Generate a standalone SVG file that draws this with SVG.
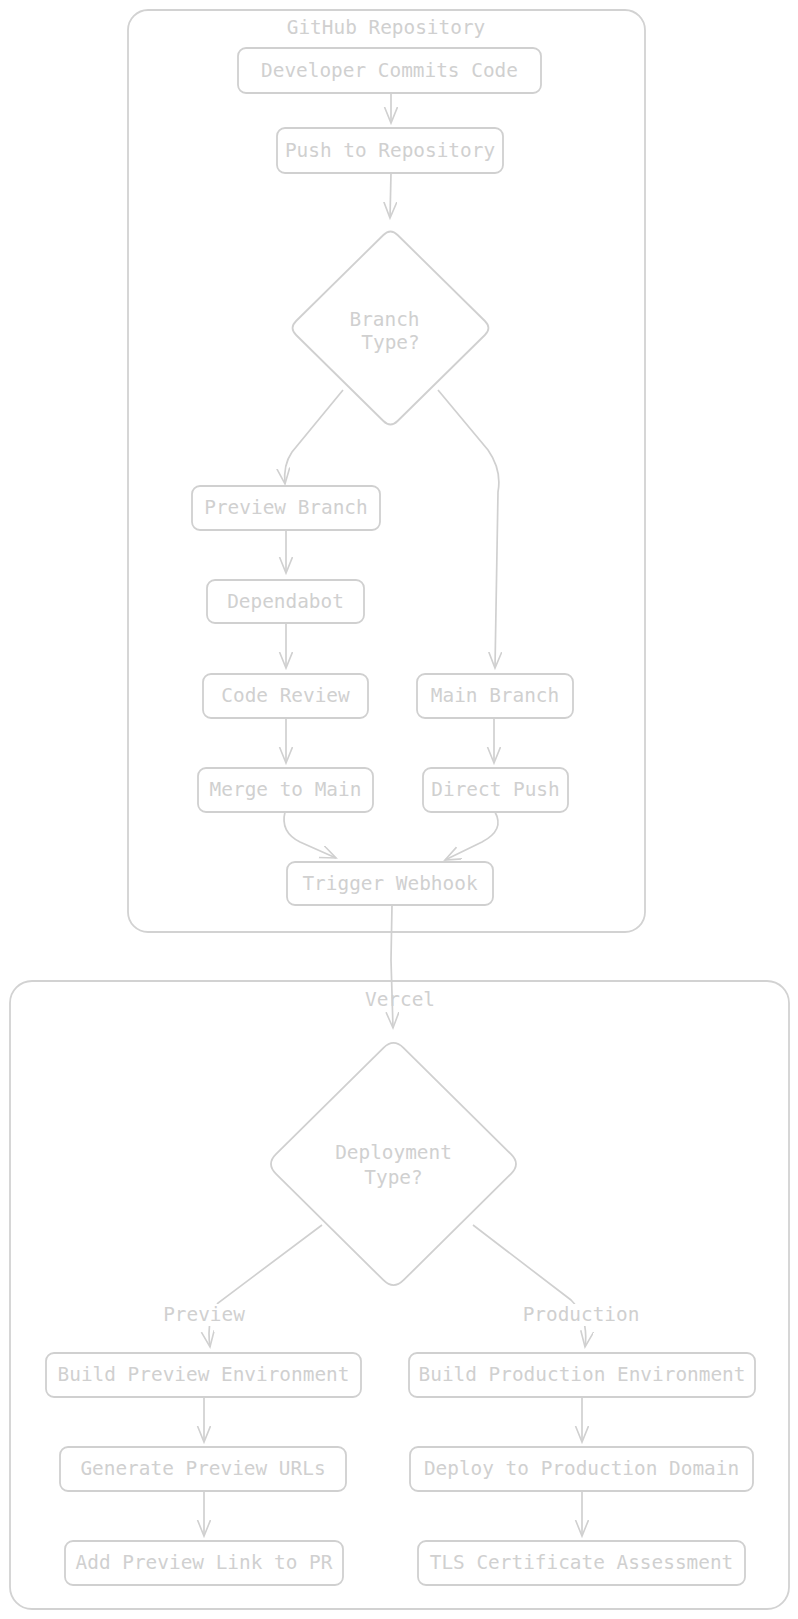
<svg xmlns="http://www.w3.org/2000/svg" width="798" height="1619" viewBox="0 0 798 1619">
<defs>
<marker id="arr" markerUnits="userSpaceOnUse" markerWidth="20" markerHeight="16" refX="16" refY="6.5" orient="auto">
<path d="M0,0 L16,6.5 L0,13" fill="none" stroke="#d0d0d0" stroke-width="1.6"/>
</marker>
<style>
.cl{fill:none;stroke:#d2d2d2;stroke-width:1.8}
.nd{fill:#ffffff;stroke:#d0d0d0;stroke-width:1.8}
.ed{fill:none;stroke:#d0d0d0;stroke-width:1.7}
.t{font-family:"DejaVu Sans Mono","Liberation Mono",monospace;font-size:19.4px;fill:#d0d0d0;text-anchor:middle}
.lb{fill:#ffffff;stroke:none}
</style>
</defs>
<rect x="0" y="0" width="798" height="1619" fill="#ffffff"/>
<g id="cluster-github">
<rect class="cl" x="128" y="10" width="517" height="922" rx="20"/>
<text class="t" x="386" y="34">GitHub Repository</text>
</g>
<g id="cluster-vercel">
<rect class="cl" x="10" y="981" width="779" height="628" rx="22"/>
<text class="t" x="400" y="1006">Vercel</text>
</g>
<g id="connectors">
<path class="ed" d="M391,93 L391,123" marker-end="url(#arr)"/>
<path class="ed" d="M391,173 L390,218" marker-end="url(#arr)"/>
<path class="ed" d="M343,390 L292,452 Q283,465 285,484" marker-end="url(#arr)"/>
<path class="ed" d="M438,390 L488,450 Q502,470 498,492 L495,668" marker-end="url(#arr)"/>
<path class="ed" d="M286,530 L286,573" marker-end="url(#arr)"/>
<path class="ed" d="M286,623 L286,668" marker-end="url(#arr)"/>
<path class="ed" d="M286,718 L286,763" marker-end="url(#arr)"/>
<path class="ed" d="M494,718 L494,763" marker-end="url(#arr)"/>
<path class="ed" d="M285,812 Q280,832 300,842 L336,858" marker-end="url(#arr)"/>
<path class="ed" d="M495,812 Q505,830 482,842 L445,860" marker-end="url(#arr)"/>
<path class="ed" d="M392,905 L391,960 L393,1028" marker-end="url(#arr)"/>
<path class="ed" d="M322,1225 L218,1303 Q206,1318 210,1347" marker-end="url(#arr)"/>
<path class="ed" d="M473,1225 L571,1300 Q589,1318 585,1347" marker-end="url(#arr)"/>
<path class="ed" d="M204,1397 L204,1442" marker-end="url(#arr)"/>
<path class="ed" d="M204,1491 L204,1536" marker-end="url(#arr)"/>
<path class="ed" d="M582,1397 L582,1442" marker-end="url(#arr)"/>
<path class="ed" d="M582,1491 L582,1536" marker-end="url(#arr)"/>
<g id="edge-label-preview">
<rect class="lb" x="160" y="1304" width="88" height="22"/>
<text class="t" x="204" y="1321">Preview</text>
</g>
<g id="edge-label-production">
<rect class="lb" x="519" y="1304" width="124" height="22"/>
<text class="t" x="581" y="1321">Production</text>
</g>
</g>
<g id="node-dev">
<rect class="nd" x="238" y="48" width="303" height="45" rx="8"/>
<text class="t" x="389.5" y="77">Developer Commits Code</text>
</g>
<g id="node-push">
<rect class="nd" x="277" y="128" width="226" height="45" rx="8"/>
<text class="t" x="390" y="157">Push to Repository</text>
</g>
<g id="node-branchtype">
<path class="nd" d="M383.4,235 Q390.5,228 397.6,235 L484.9,321 Q492,328 484.9,335 L397.6,421 Q390.5,428 383.4,421 L296.1,335 Q289,328 296.1,321 Z"/>
<text class="t" x="384.5" y="326">Branch</text>
<text class="t" x="390.5" y="349">Type?</text>
</g>
<g id="node-previewbranch">
<rect class="nd" x="192" y="486" width="188" height="44" rx="8"/>
<text class="t" x="286" y="514">Preview Branch</text>
</g>
<g id="node-dependabot">
<rect class="nd" x="207" y="580" width="157" height="43" rx="8"/>
<text class="t" x="285.5" y="608">Dependabot</text>
</g>
<g id="node-codereview">
<rect class="nd" x="203" y="674" width="165" height="44" rx="8"/>
<text class="t" x="285.5" y="702">Code Review</text>
</g>
<g id="node-mainbranch">
<rect class="nd" x="417" y="674" width="156" height="44" rx="8"/>
<text class="t" x="495" y="702">Main Branch</text>
</g>
<g id="node-merge">
<rect class="nd" x="198" y="768" width="175" height="44" rx="8"/>
<text class="t" x="285.5" y="796">Merge to Main</text>
</g>
<g id="node-directpush">
<rect class="nd" x="423" y="768" width="145" height="44" rx="8"/>
<text class="t" x="495.5" y="796">Direct Push</text>
</g>
<g id="node-webhook">
<rect class="nd" x="287" y="862" width="206" height="43" rx="8"/>
<text class="t" x="390" y="890">Trigger Webhook</text>
</g>
<g id="node-deploytype">
<path class="nd" d="M383.5,1047.8 Q393.5,1038 403.5,1047.8 L511,1154.2 Q521,1164 511,1173.8 L403.5,1280.2 Q393.5,1290 383.5,1280.2 L276,1173.8 Q266,1164 276,1154.2 Z"/>
<text class="t" x="393.5" y="1159">Deployment</text>
<text class="t" x="393.5" y="1184">Type?</text>
</g>
<g id="node-buildpreview">
<rect class="nd" x="46" y="1353" width="315" height="44" rx="8"/>
<text class="t" x="203.5" y="1381">Build Preview Environment</text>
</g>
<g id="node-buildprod">
<rect class="nd" x="409" y="1353" width="346" height="44" rx="8"/>
<text class="t" x="582" y="1381">Build Production Environment</text>
</g>
<g id="node-genurls">
<rect class="nd" x="60" y="1447" width="286" height="44" rx="8"/>
<text class="t" x="203" y="1475">Generate Preview URLs</text>
</g>
<g id="node-deploydomain">
<rect class="nd" x="410" y="1447" width="343" height="44" rx="8"/>
<text class="t" x="581.5" y="1475">Deploy to Production Domain</text>
</g>
<g id="node-addlink">
<rect class="nd" x="65" y="1541" width="278" height="44" rx="8"/>
<text class="t" x="204" y="1569">Add Preview Link to PR</text>
</g>
<g id="node-tls">
<rect class="nd" x="418" y="1541" width="327" height="44" rx="8"/>
<text class="t" x="581.5" y="1569">TLS Certificate Assessment</text>
</g>
</svg>
